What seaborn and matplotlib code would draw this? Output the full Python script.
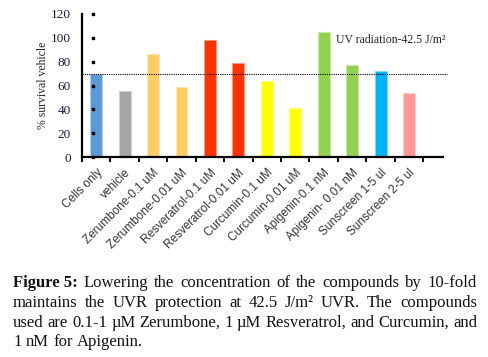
import numpy as np
import pandas as pd
import seaborn as sns
import matplotlib
matplotlib.use('Agg')
import matplotlib.pyplot as plt
import matplotlib.colors as mcolors
import matplotlib.transforms as mtransforms

# data
categories = ['Cells only', 'vehicle', 'Zerumbone-0.1 uM', 'Zerumbone-0.01 uM',
              'Resveratrol-0.1 uM', 'Resveratrol-0.01 uM', 'Curcumin-0.1 uM',
              'Curcumin-0.01 uM', 'Apigenin-0.1 nM', 'Apigenin- 0.01 nM',
              'Sunscreen 1-5 ul', 'Sunscreen 2-5 ul']
survival = [70, 55.5, 86.5, 59, 98, 78.5, 64, 41, 105, 77, 72, 54]
bar_colors = ['#5B9BD5', '#A5A5A5', '#FFCC66', '#FFCC66', '#FF3300', '#FF3300',
              '#FFFF00', '#FFFF00', '#92D050', '#92D050', '#00B0F0', '#FF9999']
yticks = [0, 20, 40, 60, 80, 100, 120]
reference_level = 70

sns.set_style('white')
plt.rcParams['font.family'] = ['Liberation Serif', 'DejaVu Serif']

df = pd.DataFrame({'group': categories, 'survival': survival})

fig = plt.figure(figsize=(4.88, 3.57), dpi=100)
ax = fig.add_axes([0.168, 0.560, 0.740, 0.401])

sns.barplot(ax=ax, data=df, x='group', y='survival', hue='group',
            palette=bar_colors, legend=False, width=0.42, saturation=1)
for patch, c in zip(ax.patches, bar_colors):
    light = np.array(mcolors.to_rgb(c)) * 0.5 + 0.5
    patch.set_edgecolor(light)
    patch.set_linewidth(0.8)

ax.set_ylim(0, 120)
ax.set_xlim(-0.5, 12.2)
ax.axhline(reference_level, color='black', ls=(0, (1, 1)), lw=0.8,
           xmax=1.01, clip_on=False)

# axes styling
for s in ['top', 'right']:
    ax.spines[s].set_visible(False)
for s in ['left', 'bottom']:
    ax.spines[s].set_color('black')
    ax.spines[s].set_linewidth(1.6)

ax.set_yticks(yticks)
ax.set_yticklabels([str(v) for v in yticks], fontsize=9.5, color='#1a1a40')
ax.tick_params(axis='y', length=0, pad=8)
dot_tr = mtransforms.blended_transform_factory(ax.transAxes, ax.transData)
ax.scatter([0.03] * len(yticks), yticks, s=2.5, marker='s', color='black',
           transform=dot_tr, clip_on=False, zorder=5)

ax.set_xticks(range(len(categories)))
ax.set_xticklabels(categories, rotation=45, ha='right', rotation_mode='anchor',
                   fontsize=8.5, family='Liberation Sans', color='#333333')
ax.set_xticks(np.arange(-0.5, len(categories) + 0.5, 1), minor=True)
ax.tick_params(axis='x', which='major', length=0, pad=7)
ax.tick_params(axis='x', which='minor', length=3.5, width=1.4, color='black',
               direction='out', bottom=True)

ax.set_xlabel('')
ax.set_ylabel('% survival vehicle', fontsize=8.5, labelpad=1)

ax.text(8.44, 98, 'UV radiation-42.5 J/m\u00b2', fontsize=8.5, ha='left', va='center')

# justified caption below the chart
renderer = fig.canvas.get_renderer()
caption_lines = [
    [('Figure 5:', 'bold')] + [(w, 'normal') for w in
        'Lowering the concentration of the compounds by 10-fold'.split()],
    [(w, 'normal') for w in
        'maintains the UVR protection at 42.5 J/m\u00b2 UVR. The compounds'.split()],
    [(w, 'normal') for w in
        'used are 0.1-1 \u00b5M Zerumbone, 1 \u00b5M Resveratrol, and Curcumin, and'.split()],
    [(w, 'normal') for w in '1 nM for Apigenin.'.split()],
]
x_left, x_right = 13 / 488, 477 / 488
line_y = [283, 303, 323, 342]
cap_size = 12
for i, (words, yp) in enumerate(zip(caption_lines, line_y)):
    y = 1 - yp / 357
    texts = [fig.text(0, y, w, fontsize=cap_size, fontweight=wt, va='center',
                      color='#111111') for w, wt in words]
    widths = [t.get_window_extent(renderer).width / fig.bbox.width for t in texts]
    last = i == len(caption_lines) - 1
    if last:
        gap = 0.009
    else:
        gap = (x_right - x_left - sum(widths)) / (len(words) - 1)
    x = x_left
    for t, w in zip(texts, widths):
        t.set_x(x)
        x += w + gap

fig.savefig('out.png', dpi=100)
